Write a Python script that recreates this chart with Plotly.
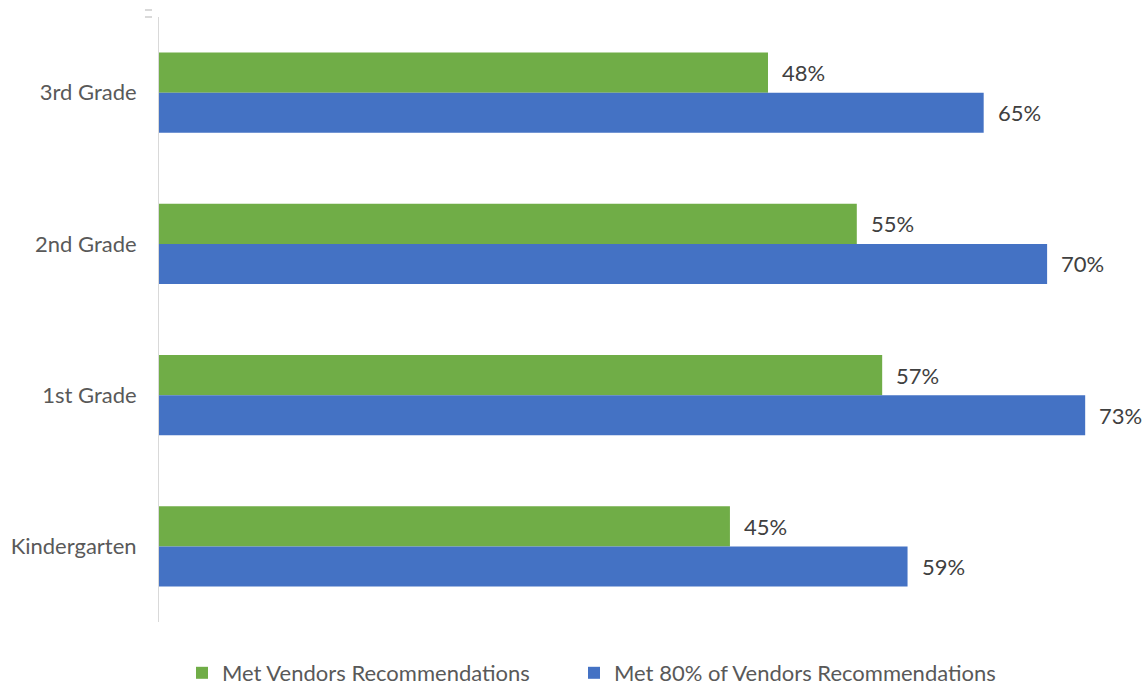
import plotly.graph_objects as go

categories = ["3rd Grade", "2nd Grade", "1st Grade", "Kindergarten"]
met_vendors = [0.48, 0.55, 0.57, 0.45]
met_80_vendors = [0.65, 0.70, 0.73, 0.59]
series_names = ["Met Vendors Recommendations", "Met 80% of Vendors Recommendations"]
series_colors = ["#70AD47", "#4472C4"]

FONT = "Lato"
FONT_SIZE = 22
TEXT_COLOR = "#595959"
LABEL_COLOR = "#404040"
W, H = 1148, 685

fig = go.Figure()
for i, (name, vals, color) in enumerate(zip(series_names, [met_vendors, met_80_vendors], series_colors)):
    fig.add_trace(go.Bar(
        y=categories, x=vals, name=name, orientation="h",
        marker=dict(color=color, line=dict(width=0)),
        legend="legend" if i == 0 else "legend2",
    ))

# value labels just past the end of each bar
annotations = []
for k, vals in enumerate([met_vendors, met_80_vendors]):
    for cat, v in zip(categories, vals):
        annotations.append(dict(
            x=v, y=cat, xref="x", yref="y", text=f"{v:.0%}",
            showarrow=False, xanchor="left", yanchor="middle",
            xshift=12, yshift=20 if k == 0 else -20,
            font=dict(family=FONT, size=FONT_SIZE, color=LABEL_COLOR),
        ))

# small grey tick marks above the category axis
for y0 in (1.0116, 1.0):
    fig.add_shape(type="line", xref="paper", yref="paper",
                  x0=-0.0143, x1=-0.0071, y0=y0, y1=y0,
                  line=dict(color="#D9D9D9", width=2))

legend_common = dict(
    orientation="h", xref="container", yref="container",
    xanchor="left", y=1 - 673 / H, yanchor="middle",
    font=dict(family=FONT, size=FONT_SIZE, color=TEXT_COLOR),
    itemwidth=30, bgcolor="rgba(0,0,0,0)",
)

fig.update_layout(
    width=W, height=H,
    margin=dict(l=159, r=7, t=17, b=63),
    paper_bgcolor="white", plot_bgcolor="white",
    barmode="group", bargap=0.471, bargroupgap=0,
    font=dict(family=FONT, size=FONT_SIZE, color=TEXT_COLOR),
    annotations=annotations,
    xaxis=dict(range=[0, 0.774], visible=False, fixedrange=True),
    yaxis=dict(
        autorange="reversed", showline=True, linecolor="#D9D9D9", linewidth=1,
        showgrid=False, ticks="", ticklabelstandoff=17,
        tickfont=dict(family=FONT, size=FONT_SIZE, color=TEXT_COLOR),
    ),
    legend=dict(x=(192 - 10) / W, **legend_common),
    legend2=dict(x=(584 - 10) / W, **legend_common),
    showlegend=True,
)

fig.write_html("out.html")
